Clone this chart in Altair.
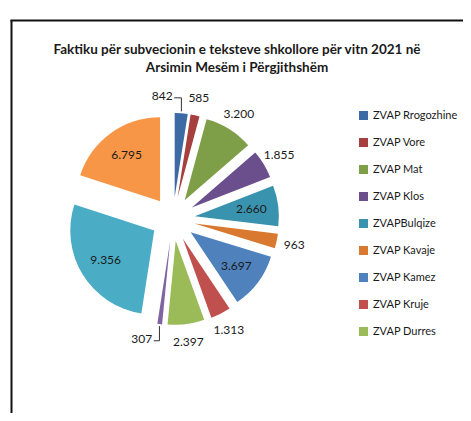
import json
import math
import altair as alt
import pandas as pd

# ---------------- data ----------------
categories = [
    "ZVAP Rrogozhine", "ZVAP Vore", "ZVAP Mat", "ZVAP Klos", "ZVAPBulqize",
    "ZVAP Kavaje", "ZVAP Kamez", "ZVAP Kruje", "ZVAP Durres",
    "ZVAP Shijak", "ZVAP Tirane", "ZVAP Tirane Rrethe",
]
values = [842, 585, 3200, 1855, 2660, 963, 3697, 1313, 2397, 307, 9356, 6795]
colors = [
    "#3C6AA5", "#A5403E", "#7E9E48", "#6B4F8C", "#3A93AE", "#D9792F",
    "#4F81BD", "#C0504D", "#9BBB59", "#8064A2", "#4BACC6", "#F79646",
]
legend_shown = categories[:9]
title_lines = [
    "Faktiku për subvecionin e teksteve shkollore për vitn 2021 në",
    "Arsimin Mesëm i Përgjithshëm",
]

# ---------------- layout / style ----------------
inside_labels = ["ZVAPBulqize", "ZVAP Kamez", "ZVAP Tirane", "ZVAP Tirane Rrethe"]
label_nudge_deg = {"ZVAP Rrogozhine": -11.5, "ZVAP Shijak": 9.0}
CX, CY = 165, 211      # pie centre (view px)
D = 22                 # explosion distance
R = 84                 # radius
R_IN = 57
R_OUT = 102
FONT = "Lato"
TXT = "#1a1a1a"

df = pd.DataFrame({"cat": categories, "value": values, "idx": list(range(len(values)))})

nudge_expr = "0"
for k, v in label_nudge_deg.items():
    nudge_expr = f"(datum.cat === '{k}' ? {math.radians(v)} : {nudge_expr})"

base = (
    alt.Chart(df)
    .transform_joinaggregate(total="sum(value)")
    .transform_window(cum="sum(value)", sort=[alt.SortField("idx")], frame=[None, 0])
    .transform_calculate(
        a0="(datum.cum - datum.value) / datum.total * 2 * PI",
        a1="datum.cum / datum.total * 2 * PI",
    )
    .transform_calculate(mid="(datum.a0 + datum.a1) / 2")
    .transform_calculate(
        ax=f"{CX} + {D} * sin(datum.mid)",
        ay=f"{CY} - {D} * cos(datum.mid)",
        inside=f"indexof({json.dumps(inside_labels)}, datum.cat) >= 0",
        dth=nudge_expr,
        lab="replace(format(datum.value, ','), ',', '.')",
    )
    .transform_calculate(
        lr=f"datum.inside ? {R_IN} : {R_OUT}",
    )
    .transform_calculate(
        lx="datum.ax + datum.lr * sin(datum.mid + datum.dth)",
        ly="datum.ay - datum.lr * cos(datum.mid + datum.dth)",
        ex=f"datum.ax + {R + 2} * sin(datum.mid)",
        ey=f"datum.ay - {R + 2} * cos(datum.mid)",
    )
)

arcs = base.mark_arc(strokeWidth=0).encode(
    x=alt.X("ax:Q", scale=None),
    y=alt.Y("ay:Q", scale=None),
    theta=alt.Theta("a0:Q", scale=None, stack=False),
    theta2="a1:Q",
    radius=alt.value(R),
    color=alt.Color(
        "cat:N",
        scale=alt.Scale(domain=categories, range=colors),
        sort=categories,
        legend=alt.Legend(
            values=legend_shown,
            orient="none",
            legendX=350,
            legendY=102,
            title=None,
            symbolType="square",
            symbolSize=81,
            symbolStrokeWidth=0,
            labelFont=FONT,
            labelFontSize=11,
            labelColor=TXT,
            labelOffset=4,
            rowPadding=15,
            labelLimit=200,
        ),
    ),
)

labels = base.mark_text(font=FONT, fontSize=12, color=TXT, align="center", baseline="middle").encode(
    x=alt.X("lx:Q", scale=None),
    y=alt.Y("ly:Q", scale=None),
    text="lab:N",
)

leader = base.transform_filter(
    f"indexof({json.dumps(list(label_nudge_deg))}, datum.cat) >= 0"
).transform_calculate(
    lend="datum.ex > datum.lx ? datum.lx + 12 : datum.lx - 12",
    yy="datum.ly + 2",
)
leader_h = leader.mark_rule(color="#333333", strokeWidth=1).encode(
    x=alt.X("lend:Q", scale=None), x2="ex:Q",
    y=alt.Y("yy:Q", scale=None), y2="yy:Q",
)
leader_v = leader.mark_rule(color="#333333", strokeWidth=1).encode(
    x=alt.X("ex:Q", scale=None), x2="ex:Q",
    y=alt.Y("yy:Q", scale=None), y2="ey:Q",
)

tdf = pd.DataFrame({"t": [0]})
title1 = alt.Chart(tdf).mark_text(
    text=title_lines[0], font=FONT, fontSize=13.5, fontWeight="bold", color=TXT,
    align="center", baseline="middle",
).encode(x=alt.value(229), y=alt.value(42))
title2 = alt.Chart(tdf).mark_text(
    text=title_lines[1], font=FONT, fontSize=13.5, fontWeight="bold", color=TXT,
    align="center", baseline="middle",
).encode(x=alt.value(229), y=alt.value(60))

frame_left = alt.Chart(tdf).mark_rule(color="#111111", strokeWidth=2).encode(
    x=alt.value(3.5), y=alt.value(12), y2=alt.value(405)
)
frame_top = alt.Chart(tdf).mark_rule(color="#111111", strokeWidth=2).encode(
    x=alt.value(2.5), x2=alt.value(455), y=alt.value(12.5)
)

chart = (
    alt.layer(frame_left, frame_top, title1, title2, arcs, labels, leader_h, leader_v)
    .properties(width=455, height=405, padding=0, autosize=alt.AutoSizeParams(type="none"))
    .configure_view(stroke=None)
)

chart.save("out.html", embed_options={"renderer": "svg", "actions": False})
